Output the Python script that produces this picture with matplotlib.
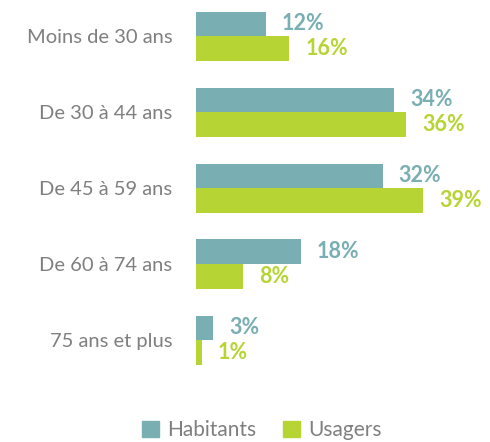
import matplotlib.pyplot as plt
from matplotlib.patches import Patch

plt.rcParams['font.family'] = ['Lato', 'DejaVu Sans']

categories = ["Moins de 30 ans", "De 30 à 44 ans", "De 45 à 59 ans",
              "De 60 à 74 ans", "75 ans et plus"]
habitants = [12, 34, 32, 18, 3]
usagers = [16, 36, 39, 8, 1]

teal = '#79AEB2'
green = '#B6D433'
grey = '#7F7F7F'

W, H = 490, 442
fig = plt.figure(figsize=(W / 100, H / 100), dpi=100)
ax = fig.add_axes([196 / W, 1 - 380 / H, 284 / W, 380 / H])

bh = 24.5 / 76
ys = list(range(len(categories)))
ax.barh([y - bh / 2 for y in ys], habitants, height=bh, color=teal)
ax.barh([y + bh / 2 for y in ys], usagers, height=bh, color=green)

px = 284 / 48.7  # pixels per percent
off = 16 / px
for y, h, u in zip(ys, habitants, usagers):
    ax.text(h + off, y - bh / 2, f"{h}%", color=teal, fontsize=15.5,
            fontweight='bold', va='center', ha='left')
    ax.text(u + off, y + bh / 2, f"{u}%", color=green, fontsize=15.5,
            fontweight='bold', va='center', ha='left')

ax.set_xlim(0, 48.7)
ax.set_ylim((380 - 36) / 76, -36 / 76)
ax.set_yticks(ys)
ax.set_yticklabels(categories, fontsize=14.5, color=grey)
ax.tick_params(axis='y', length=0, pad=17)
ax.set_xticks([])
for s in ax.spines.values():
    s.set_visible(False)

handles = [Patch(color=teal, label='Habitants'), Patch(color=green, label='Usagers')]
fig.legend(handles=handles, loc='center', bbox_to_anchor=(262 / W, 1 - 430 / H),
           ncol=2, frameon=False, fontsize=15, labelcolor=grey,
           handlelength=0.8, handleheight=0.8, handletextpad=0.4,
           columnspacing=1.3)

fig.savefig('out.png', dpi=100)
